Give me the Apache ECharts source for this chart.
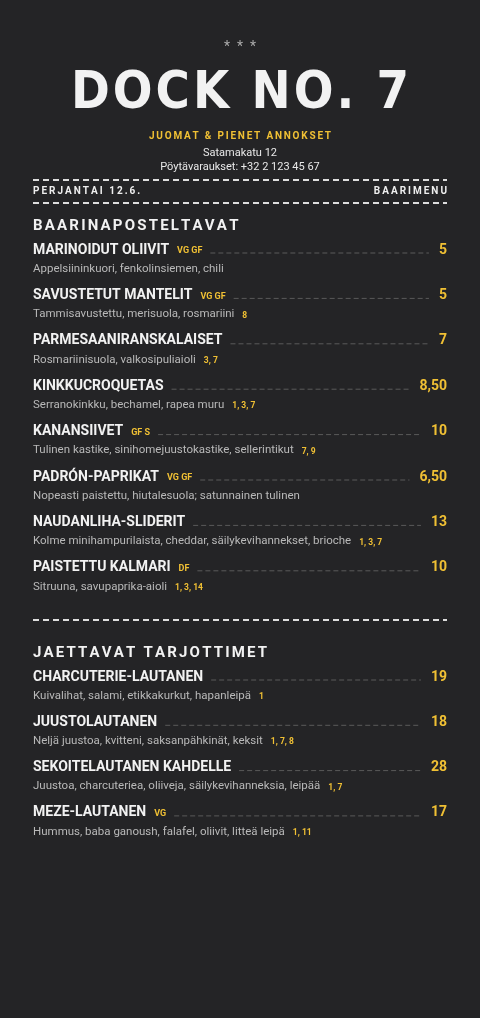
<!DOCTYPE html><html><head><meta charset="utf-8">
<script src="https://cdn.jsdelivr.net/npm/echarts@6/dist/echarts.min.js"></script>
<style>html,body{margin:0;padding:0;background:#242426}#c{width:480px;height:1018px}</style></head><body><div id="c"></div>
<script>
const sectionTitles = ["BAARINAPOSTELTAVAT", "JAETTAVAT TARJOTTIMET"];
const names1 = ["MARINOIDUT OLIIVIT","SAVUSTETUT MANTELIT","PARMESAANIRANSKALAISET","KINKKUCROQUETAS","KANANSIIVET","PADRÓN-PAPRIKAT","NAUDANLIHA-SLIDERIT","PAISTETTU KALMARI"];
const tags1 = ["VG GF","VG GF","","","GF S","VG GF","","DF"];
const descs1 = ["Appelsiininkuori, fenkolinsiemen, chili","Tammisavustettu, merisuola, rosmariini","Rosmariinisuola, valkosipuliaioli","Serranokinkku, bechamel, rapea muru","Tulinen kastike, sinihomejuustokastike, sellerintikut","Nopeasti paistettu, hiutalesuola; satunnainen tulinen","Kolme minihampurilaista, cheddar, säilykevihannekset, brioche","Sitruuna, savupaprika-aioli"];
const allergens1 = ["","8","3, 7","1, 3, 7","7, 9","","1, 3, 7","1, 3, 14"];
const prices1 = ["5","5","7","8,50","10","6,50","13","10"];
const names2 = ["CHARCUTERIE-LAUTANEN","JUUSTOLAUTANEN","SEKOITELAUTANEN KAHDELLE","MEZE-LAUTANEN"];
const tags2 = ["","","","VG"];
const descs2 = ["Kuivalihat, salami, etikkakurkut, hapanleipä","Neljä juustoa, kvitteni, saksanpähkinät, keksit","Juustoa, charcuteriea, oliiveja, säilykevihanneksia, leipää","Hummus, baba ganoush, falafel, oliivit, litteä leipä"];
const allergens2 = ["1","1, 7, 8","1, 7","1, 11"];
const prices2 = ["19","18","28","17"];

const Y='#f0c034', W='#f2f2f2', G='#b9b9b9', F='Roboto, "Noto Sans", sans-serif';
const TF='"Liberation Sans Narrow", "DejaVu Sans Condensed", sans-serif';
const cv=document.createElement('canvas').getContext('2d');
function tw(t,font){cv.font=font;return cv.measureText(t).width;}
const els=[];
function text(x,y,t,size,color,weight,align,family){
  els.push({type:'text',x,y,style:{text:t,fill:color,font:(weight||'normal')+' '+size+'px '+(family||F),textAlign:align||'left',textVerticalAlign:'middle'}});
}
function spaced(x,y,t,size,color,weight,sp,align,family){
  const font=(weight||'normal')+' '+size+'px '+(family||F);
  let total=0;for(const c of t)total+=tw(c,font)+sp;total-=sp;
  let cx=align==='center'?x-total/2:align==='right'?x-total:x;
  for(const c of t){text(cx,y,c,size,color,weight,'left',family);cx+=tw(c,font)+sp;}
}
function dash(x1,x2,y,color,w,d){els.push({type:'line',shape:{x1,y1:y,x2,y2:y},style:{stroke:color,lineWidth:w,lineDash:d}});}

text(240,47,'*  *  *',14,'#aaa','normal','center');
spaced(240,94,'DOCK NO. 7',52,W,'bold',3,'center',TF);
spaced(240,136,'JUOMAT & PIENET ANNOKSET',10,Y,'bold',1.8,'center');
text(240,153,'Satamakatu 12',11,'#e8e8e8','normal','center');
text(240,167,'Pöytävaraukset: +32 2 123 45 67',11,'#e8e8e8','normal','center');
dash(33,447,180,'#ddd',2,[6,4]);
spaced(33,191,'PERJANTAI 12.6.',10,'#eee','bold',2,'left');
spaced(447,191,'BAARIMENU',10,'#eee','bold',2,'right');
dash(33,447,203,'#ddd',2,[6,4]);

function section(y0,title,names,tags,descs,alls,prices,step){
  spaced(33,y0,title,15,W,'bold',2.2,'left');
  names.forEach((n,i)=>{
    const y=y0+24+i*step;
    const nf='bold 14px '+F;
    text(33,y,n,14,W,'bold');
    let x=33+tw(n,nf)+8;
    if(tags[i]){text(x,y+1,tags[i],9,Y,'bold');x+=tw(tags[i],'bold 9px '+F)+8;}
    const pw=tw(prices[i],'bold 14px '+F);
    text(447,y,prices[i],14,Y,'bold','right');
    dash(x,447-pw-10,y+3,'#5a5a5a',1,[5,3]);
    text(33,y+19,descs[i],11.5,G,'normal');
    if(alls[i]){const dx=33+tw(descs[i],'normal 11.5px '+F)+8;text(dx,y+20,alls[i],8.5,Y,'bold');}
  });
}
section(226,sectionTitles[0],names1,tags1,descs1,allergens1,prices1,45.4);
dash(33,447,620,'#ddd',2,[6,4]);
section(653,sectionTitles[1],names2,tags2,descs2,allergens2,prices2,45.3);

const ch=echarts.init(document.getElementById('c'),null,{renderer:'canvas'});
ch.setOption({backgroundColor:'#242426',animation:false,graphic:{elements:els}});
</script></body></html>
